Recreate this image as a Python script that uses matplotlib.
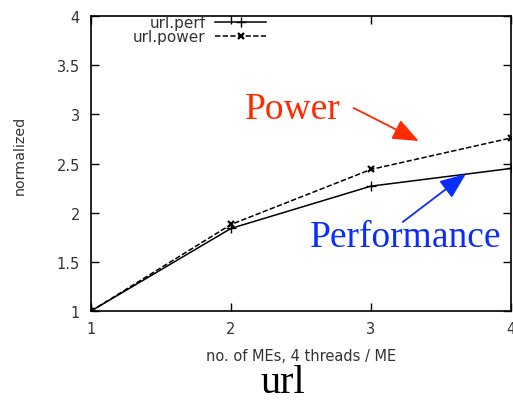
import matplotlib
matplotlib.use("Agg")
import matplotlib.pyplot as plt

# Scaling results for the url benchmark
mes = [1, 2, 3, 4]
perf = [1.0, 1.84, 2.27, 2.45]
power = [1.0, 1.88, 2.44, 2.76]

yticks = [1, 1.5, 2, 2.5, 3, 3.5, 4]
ytick_labels = ["1", "1.5", "2", "2.5", "3", "3.5", "4"]

plt.rcParams["font.family"] = ["DejaVu Sans"]
serif = ["Liberation Serif", "DejaVu Serif"]

fig = plt.figure(figsize=(5.13, 4.06), dpi=100)
ax = fig.add_axes([0.1774, 0.2315, 0.8186, 0.7265])

ax.plot(mes, perf, color="black", lw=1.1, marker="+", ms=7, mew=1.0, label="url.perf")
ax.plot(mes, power, color="black", lw=1.1, ls=(0, (3.5, 1.5)), marker="x", ms=5,
        mew=1.6, label="url.power")

ax.set_xlim(1, 4)
ax.set_ylim(1, 4)
ax.set_xticks(mes)
ax.set_yticks(yticks)
ax.set_yticklabels(ytick_labels)
ax.tick_params(direction="in", length=6, width=1, labelsize=10.5, top=True, right=True,
               labelcolor="#333333")
ax.tick_params(axis="y", pad=8)
ax.tick_params(axis="x", pad=7)
for s in ax.spines.values():
    s.set_linewidth(1.2)

ax.set_xlabel("no. of MEs, 4 threads / ME", fontsize=10.5, color="#333333", labelpad=9)
ax.set_ylabel("normalized", fontsize=10.3, color="#333333")
ax.yaxis.set_label_coords(-0.153, 0.53)

leg = ax.legend(loc="upper left", bbox_to_anchor=(0.259, 0.96),
                bbox_transform=fig.transFigure, frameon=False, markerfirst=False,
                fontsize=11, handlelength=3.3, handletextpad=0.65,
                labelspacing=-0.05, borderpad=0, borderaxespad=0)
for t in leg.get_texts():
    t.set_color("#333333")

# callouts
head = "-|>,head_length=1.6,head_width=0.65"
ax.text(2.443, 3.055, "Power", fontsize=27, color="#ff2a00", family=serif,
        ha="center", va="center")
ax.annotate("", xy=(3.341, 2.729), xytext=(2.876, 3.065),
            arrowprops=dict(arrowstyle=head, mutation_scale=10, color="#ff2a00",
                            lw=1.3, shrinkA=0, shrinkB=0))
ax.text(3.248, 1.753, "Performance", fontsize=27, color="#0a2dff", family=serif,
        ha="center", va="center")
ax.annotate("", xy=(3.678, 2.394), xytext=(3.227, 1.905),
            arrowprops=dict(arrowstyle=head, mutation_scale=10, color="#0a2dff",
                            lw=1.3, shrinkA=0, shrinkB=0))

fig.text(0.552, 0.055, "url", fontsize=29, family=serif,
         ha="center", va="center", color="black")

fig.savefig("out.png", dpi=100)
